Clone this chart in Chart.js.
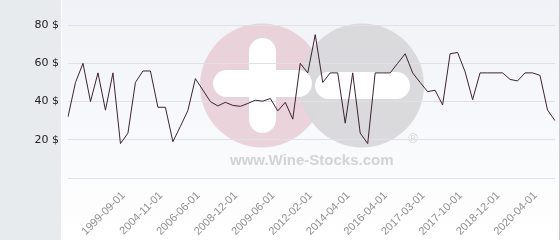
<!DOCTYPE html>
<html>
<head>
<meta charset="utf-8">
<script src="https://cdn.jsdelivr.net/npm/chart.js@4"></script>
<style>
  html, body { margin: 0; padding: 0; background: #fff; }
  #wrap { width: 560px; height: 240px; position: relative; }
</style>
</head>
<body>
<div id="wrap"><canvas id="priceChart"></canvas></div>
<script>
// dates of each price point (only every 5th one is shown on the axis)
const dates = [
  '1994-06-01', '1995-03-01', '1996-01-01', '1996-10-01', '1997-06-01', '1998-04-01', '1999-01-01',
  '1999-09-01', '2000-10-01', '2001-11-01', '2002-12-01', '2003-11-01',
  '2004-11-01', '2005-03-01', '2005-07-01', '2005-10-01', '2006-02-01',
  '2006-06-01', '2007-01-01', '2007-06-01', '2007-11-01', '2008-04-01',
  '2008-12-01', '2009-01-01', '2009-02-01', '2009-04-01', '2009-05-01',
  '2009-06-01', '2010-01-01', '2010-08-01', '2011-03-01', '2011-09-01',
  '2012-02-01', '2012-08-01', '2013-01-01', '2013-06-01', '2013-11-01',
  '2014-04-01', '2014-09-01', '2015-02-01', '2015-07-01', '2015-11-01',
  '2016-04-01', '2016-06-01', '2016-08-01', '2016-10-01', '2016-12-01',
  '2017-03-01', '2017-04-01', '2017-06-01', '2017-07-01', '2017-08-01',
  '2017-10-01', '2018-01-01', '2018-03-01', '2018-06-01', '2018-09-01',
  '2018-12-01', '2019-03-01', '2019-06-01', '2019-09-01', '2019-12-01',
  '2020-04-01', '2020-08-01', '2020-12-01', '2021-04-01'
];

// price in $
const prices = [
  32, 50, 60, 40, 55, 35.5, 55,
  18, 23.5, 50, 56, 56,
  37, 37, 19, 27, 35.3,
  52, 46, 40, 37.7, 39.6,
  38, 37.5, 39, 40.7, 40.2,
  41.6, 35.1, 39.6, 30.8, 60,
  55, 75, 50, 55, 55,
  28.7, 55, 23.5, 18, 55,
  55, 55, 60, 65, 55,
  50, 45.2, 45.9, 38.2, 65,
  65.7, 55.6, 41, 55, 55,
  55, 55, 51.6, 50.8, 55,
  55, 53.7, 35.6, 30
];

const yTicks = [0, 20, 40, 60, 80];
const firstLabel = 7;
const labelEvery = 5;

// panel background + watermark, drawn under the grid
const backdrop = {
  id: 'backdrop',
  beforeDraw(chart) {
    const c = chart.ctx;
    const w = chart.width, h = chart.height;
    c.save();
    c.fillStyle = '#ffffff';
    c.fillRect(0, 0, w, h);
    c.fillStyle = '#e7ebee';
    c.fillRect(0, 0, 61, h);
    const g = c.createLinearGradient(0, 0, 0, h);
    g.addColorStop(0, '#f0f2f7');
    g.addColorStop(1, '#ffffff');
    c.fillStyle = g;
    c.fillRect(62, 0, 497, h);
    c.fillStyle = '#c9c9c9';
    c.fillRect(559, 0, 1, h);

    // logo
    c.fillStyle = 'rgba(232, 206, 214, 0.9)';
    c.beginPath(); c.arc(262, 85.5, 62, 0, Math.PI * 2); c.fill();
    c.fillStyle = 'rgba(216, 216, 218, 0.95)';
    c.beginPath(); c.arc(362, 85.5, 62, 0, Math.PI * 2); c.fill();
    c.fillStyle = '#ffffff';
    c.beginPath(); c.roundRect(249, 38, 27, 95, 13.5); c.fill();
    c.beginPath(); c.roundRect(213, 70, 99, 27, 13.5); c.fill();
    c.beginPath(); c.roundRect(315, 72, 95, 27, 13.5); c.fill();
    c.fillStyle = '#d3d3d3';
    c.font = 'bold 15px "Liberation Sans", Arial, sans-serif';
    c.textAlign = 'left';
    c.textBaseline = 'middle';
    c.fillText('www.Wine-Stocks.com', 230, 161);
    c.font = '13px "Liberation Sans", Arial, sans-serif';
    c.textAlign = 'center';
    c.fillText('®', 413, 139);
    c.restore();
  }
};

new Chart(document.getElementById('priceChart'), {
  type: 'line',
  data: {
    labels: dates,
    datasets: [{
      data: prices,
      borderColor: '#3d2233',
      borderWidth: 1,
      pointRadius: 0,
      tension: 0,
      fill: false
    }]
  },
  options: {
    responsive: true,
    maintainAspectRatio: false,
    animation: false,
    layout: { padding: { top: 6, right: 5, left: 0, bottom: 0 } },
    plugins: {
      legend: { display: false },
      tooltip: { enabled: false }
    },
    scales: {
      x: {
        offset: false,
        grid: { display: false, drawTicks: false },
        border: { display: false },
        afterFit(scale) {
          scale.height = 62;
          scale.paddingLeft = 0;
          scale.paddingRight = 0;
        },
        ticks: {
          autoSkip: false,
          minRotation: 45,
          maxRotation: 45,
          padding: 11,
          labelOffset: 3,
          color: '#8f8f8f',
          font: { family: '"Liberation Sans"', size: 11 },
          callback(value, index) {
            return (index - firstLabel) % labelEvery === 0 && index >= firstLabel ? dates[index] : '';
          }
        }
      },
      y: {
        min: 0,
        max: 90,
        afterFit(scale) {
          scale.width = 68;
          scale.paddingTop = 0;
          scale.paddingBottom = 0;
        },
        afterBuildTicks(scale) {
          scale.ticks = yTicks.map(v => ({ value: v }));
        },
        grid: { color: '#dfe1e6', drawTicks: false },
        border: { display: false },
        ticks: {
          padding: 9,
          color: '#222222',
          font: { family: '"DejaVu Sans"', size: 11 },
          callback(value) { return value === 0 ? '' : value + ' $'; }
        }
      }
    }
  },
  plugins: [backdrop]
});
</script>
</body>
</html>
